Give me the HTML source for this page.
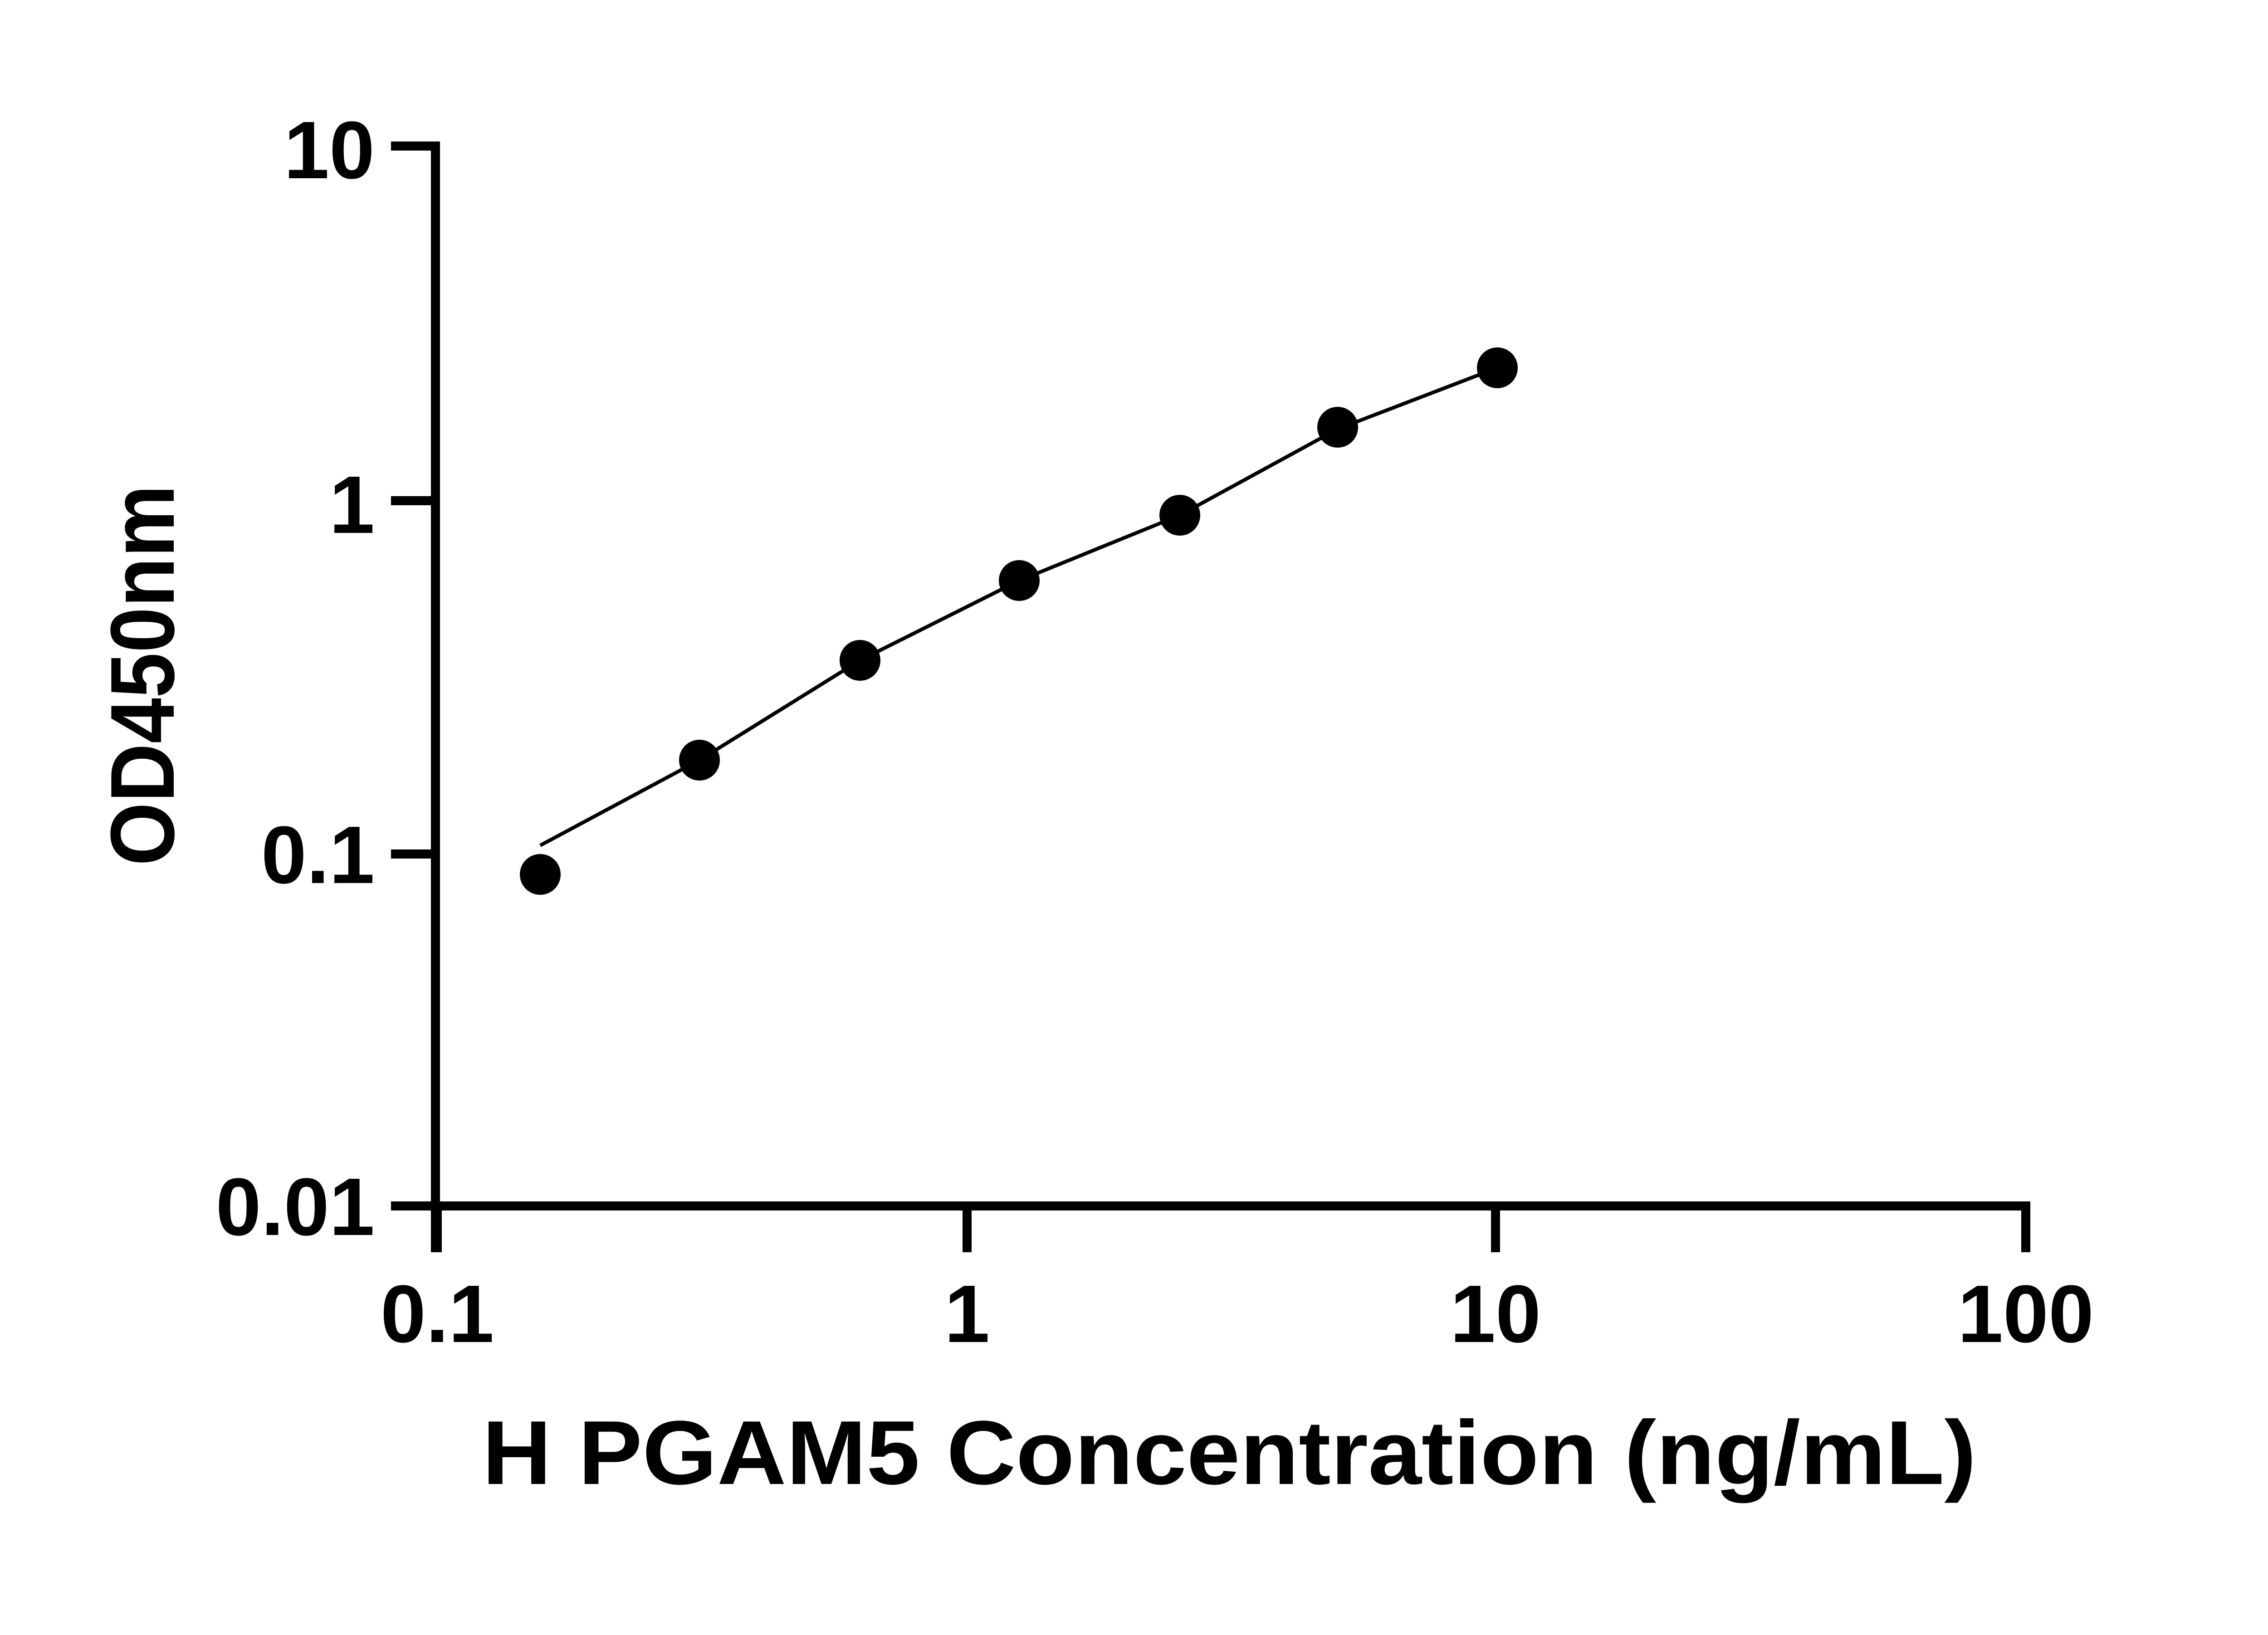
<!DOCTYPE html>
<html><head><style>html,body{margin:0;padding:0;background:#fff;}</style></head>
<body>
<svg width="5142" height="3600" viewBox="0 0 5142 3600" xmlns="http://www.w3.org/2000/svg">
<rect width="5142" height="3600" fill="#fff"/>
<g stroke="#000" stroke-width="20" fill="none" stroke-linecap="butt">
<line x1="960" y1="312" x2="960" y2="2761"/>
<line x1="862" y1="2659" x2="4476" y2="2659"/>
<line x1="862" y1="322" x2="960" y2="322"/>
<line x1="862" y1="1104" x2="960" y2="1104"/>
<line x1="862" y1="1883" x2="960" y2="1883"/>
<line x1="964" y1="2659" x2="964" y2="2761"/>
<line x1="2132" y1="2659" x2="2132" y2="2761"/>
<line x1="3297" y1="2659" x2="3297" y2="2761"/>
<line x1="4466" y1="2649" x2="4466" y2="2761"/>
</g>
<g font-family="Liberation Sans, sans-serif" font-weight="bold" font-size="180" fill="#000">
<text x="826" y="393" text-anchor="end">10</text>
<text x="826" y="1175" text-anchor="end">1</text>
<text x="826" y="1947" text-anchor="end">0.1</text>
<text x="826" y="2723" text-anchor="end">0.01</text>
<text x="964" y="2959" text-anchor="middle">0.1</text>
<text x="2132" y="2959" text-anchor="middle">1</text>
<text x="3297" y="2959" text-anchor="middle">10</text>
<text x="4466" y="2959" text-anchor="middle">100</text>
<text x="1063" y="3272" font-size="200" textLength="3294" lengthAdjust="spacingAndGlyphs">H PGAM5 Concentration (ng/mL)</text>
<text transform="translate(383,1489) rotate(-90)" text-anchor="middle" font-size="200" textLength="840" lengthAdjust="spacingAndGlyphs">OD450nm</text>
</g>
<path d="M1191,1864 L1542,1676 L1896,1456 L2247,1280 L2601,1136 L2949,946 L3301,811" stroke="#000" stroke-width="8" fill="none"/>
<g fill="#000">
<circle cx="1191" cy="1928" r="45"/>
<circle cx="1542" cy="1676" r="45"/>
<circle cx="1896" cy="1456" r="45"/>
<circle cx="2247" cy="1280" r="45"/>
<circle cx="2601" cy="1136" r="45"/>
<circle cx="2949" cy="942" r="45"/>
<circle cx="3301" cy="811" r="45"/>
</g>
</svg>
</body></html>
